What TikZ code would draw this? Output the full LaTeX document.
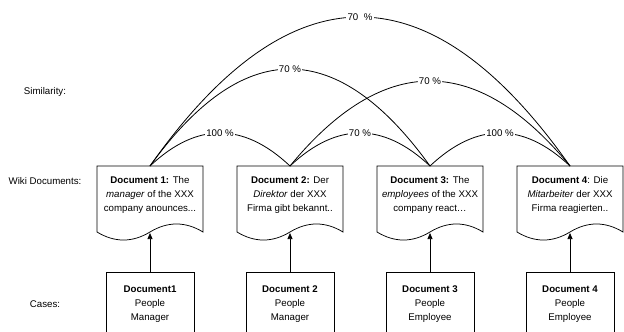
\documentclass[tikz,border=0pt]{standalone}
\usepackage{fontspec}
\setmainfont{Liberation Sans}
\usetikzlibrary{arrows.meta}
\tikzset{
  txt/.style={font=\fontsize{9.7}{14}\selectfont, inner sep=0pt, align=center},
  pct/.style={txt, fill=white, inner sep=1.2pt},
  arcline/.style={line width=0.8pt},
  docline/.style={line width=0.75pt},
  casebox/.style={txt, draw, line width=0.75pt, minimum width=88pt, minimum height=62.5pt},
  arr/.style={line width=0.75pt, -{Triangle[length=6pt,width=5pt]}},
}
\begin{document}
\begin{tikzpicture}[x=1pt,y=-1pt]
\useasboundingbox (0,0) rectangle (624,332);

% row labels
\node[txt] (lsim) at (45,92) {Similarity:};
\node[txt] (lwiki) at (45,181) {Wiki Documents:};
\node[txt] (lcase) at (45,304) {Cases:};

% document outlines
\foreach \i/\x in {1/150,2/290,3/430,4/570}{
  \coordinate (t\i) at (\x,166);
  \coordinate (w\i) at (\x,233);
  \draw[docline] (\x-53,166) -- (\x+53,166) -- (\x+53,232)
    .. controls (\x+35.3,221.3) and (\x+17.7,221.3) .. (\x,232)
    .. controls (\x-17.7,242.7) and (\x-35.3,242.7) .. (\x-53,232) -- cycle;
}

% document texts
\node[txt] (d1) at (150,195) {\textbf{Document 1:} The\\\textit{manager} of the XXX\\company anounces...};
\node[txt] (d2) at (290,195) {\textbf{Document 2:} Der\\\textit{Direktor} der XXX\\Firma gibt bekannt..};
\node[txt] (d3) at (430,195) {\textbf{Document 3:} The\\\textit{employees} of the XXX\\company react…};
\node[txt] (d4) at (570,195) {\textbf{Document 4}: Die\\\textit{Mitarbeiter} der XXX\\Firma reagierten..};

% cases
\node[casebox] (c1) at (150,304) {\textbf{Document1}\\People\\Manager};
\node[casebox] (c2) at (290,304) {\textbf{Document 2}\\People\\Manager};
\node[casebox] (c3) at (430,304) {\textbf{Document 3}\\People\\Employee};
\node[casebox] (c4) at (570,304) {\textbf{Document 4}\\People\\Employee};

% arrows case -> document
\foreach \i in {1,2,3,4}{
  \draw[arr] (c\i.north) -- (w\i);
}

% similarity arcs (parabolic)
\draw[arcline] (t1) .. controls (196.7,122) and (243.3,122) .. node[pct] (s12) {100 \%} (t2);
\draw[arcline] (t2) .. controls (336.7,122) and (383.3,122) .. node[pct] (s23) {70 \%} (t3);
\draw[arcline] (t3) .. controls (476.7,122) and (523.3,122) .. node[pct] (s34) {100 \%} (t4);
\draw[arcline] (t1) .. controls (243.3,36.7) and (336.7,36.7) .. node[pct] (s13) {70 \%} (t3);
\draw[arcline] (t2) .. controls (383.3,52.7) and (476.7,52.7) .. node[pct] (s24) {70 \%} (t4);
\draw[arcline] (t1) .. controls (290,-32.7) and (430,-32.7) .. node[pct] (s14) {70 \ \%} (t4);
\end{tikzpicture}
\end{document}
